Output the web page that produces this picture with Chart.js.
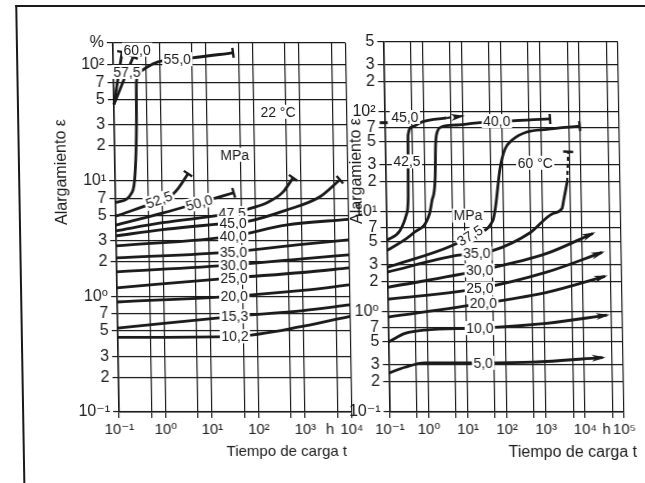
<!DOCTYPE html>
<html>
<head>
<meta charset="utf-8">
<script src="https://cdn.jsdelivr.net/npm/chart.js"></script>
<style>
  html, body { margin: 0; background: #fff; }
  body { width: 645px; height: 483px; overflow: hidden; position: relative; }
  #sheet { position: absolute; left: 0; top: 0; width: 645px; height: 483px;
           transform: skewX(0.97deg); transform-origin: 0 227px; }
  #frame { position: absolute; left: 19px; top: 5px; width: 700px; height: 520px;
           border-top: 2px solid #1a1a1a; border-left: 2px solid #1a1a1a; }
  #c22 { position: absolute; left: 0; top: 0; }
  #c60 { position: absolute; left: 340px; top: 0; }
</style>
</head>
<body>
<div id="sheet">
  <div id="frame"></div>
  <canvas id="c22" width="370" height="483"></canvas>
  <canvas id="c60" width="305" height="483"></canvas>
</div>
<script>
const INK = "#1a1a1a";
const FONT = '"Liberation Sans", Arial, "DejaVu Sans", sans-serif';

/* 22 °C panel: stress (MPa), time t (h), strain (%) */
const stress22 = ["60,0", "57,5", "55,0", "52,5", "50,0", "47,5", "45,0", "40,0", "35,0", "30,0", "25,0", "20,0", "15,3", "10,2"];
const time22 = [
  [0.1, 0.157],
  [0.1, 0.196, 0.27],
  [0.1, 0.23, 0.27, 0.3, 0.31, 0.36, 0.54, 0.92, 2.4, 5, 38],
  [0.1, 0.86, 1.41, 2.3, 3.7],
  [0.1, 1, 6.3, 35],
  [0.1, 1, 32, 90, 180, 400, 670],
  [0.1, 1, 33, 65, 450, 2500, 6800],
  [0.1, 33, 450, 10000],
  [0.1, 33, 1000, 10000],
  [0.1, 33, 1000, 10000],
  [0.1, 33, 1000, 10000],
  [0.1, 33, 1000, 10000],
  [0.1, 33, 1000, 10000],
  [0.1, 33, 1000, 10000]
];
const strain22 = [
  [45, 128],
  [45, 86, 116],
  [6.4, 7.9, 11.6, 30, 70, 85, 95, 105, 111, 114, 126],
  [4.9, 6.6, 7.1, 8.6, 11.4],
  [4.1, 5.2, 6.4, 7.8],
  [3.66, 4.3, 5.2, 5.8, 6.4, 7.9, 10.5],
  [3.31, 3.75, 4.3, 4.4, 5.5, 7.2, 10.1],
  [2.71, 3.3, 4.1, 4.6],
  [2.14, 2.41, 2.8, 3.06],
  [1.62, 1.86, 2.1, 2.27],
  [1.18, 1.44, 1.6, 1.75],
  [0.89, 1.0, 1.12, 1.25],
  [0.53, 0.67, 0.75, 0.84],
  [0.44, 0.45, 0.55, 0.67]
];
const tagAt22 = [[0.33, 134], [0.196, 86], [2.4, 111], [0.86, 6.8], [6.3, 6.4], [32, 5.2], [33, 4.3],
                 [33, 3.3], [33, 2.41], [33, 1.86], [33, 1.44], [33, 1.0], [33, 0.67], [33, 0.45]];
const end22 = ["tick", "tick", "tick", "tick", "tick", "tick", "tick", "", "", "", "", "", "", ""];
const notes22 = [["22 °C", 336, 39], ["MPa", 38, 16.6]];

/* 60 °C panel */
const stress60 = ["45,0", "42,5", "40,0", "37,5", "35,0", "30,0", "25,0", "20,0", "10,0", "5,0"];
const time60 = [
  [0.1],
  [0.1, 0.22, 0.33, 0.37, 0.38, 0.39, 0.5, 0.95, 3.9],
  [0.1, 0.47, 1.28, 1.5, 1.85, 1.95, 2.1, 2.9, 7, 27, 1700],
  [0.1, 6.2, 13.5, 53, 62, 85, 115, 186, 430, 1400, 9700],
  [0.1, 6.2, 20, 51, 470, 1800, 3150, 3500, 4400],
  [0.1, 23, 1240, 19000],
  [0.1, 23, 1200, 32000],
  [0.1, 28, 1200, 37000],
  [0.1, 0.27, 0.87, 22, 1150, 40000],
  [0.1, 0.26, 0.84, 26, 490, 30000]
];
const strain60 = [
  [78],
  [5.2, 6.5, 9.5, 14, 30, 58, 71, 80, 87],
  [4.1, 6.1, 9.6, 13, 22, 45, 60, 71, 74, 78, 85],
  [2.79, 4.84, 5.8, 8.2, 10.8, 27, 42, 53, 63, 67, 72],
  [2.5, 3.67, 3.85, 4.1, 6.2, 9.6, 10.8, 13, 20],
  [1.76, 2.6, 3.85, 6.1],
  [1.34, 1.72, 2.5, 3.94],
  [0.89, 1.22, 1.57, 2.27],
  [0.5, 0.61, 0.66, 0.69, 0.77, 0.93],
  [0.245, 0.28, 0.31, 0.31, 0.315, 0.35]
];
const tagAt60 = [[0.33, 89], [0.355, 32], [74, 81], [13.5, 5.8], [20, 3.85], [23, 2.6], [23, 1.72], [28, 1.22], [22, 0.69], [26, 0.31]];
const end60 = ["dash", "", "tick", "tick", "", "arrow", "arrow", "arrow", "arrow", "arrow"];
// dotted continuations (42,5 and 35,0)
const dashTime60 = [[3.9, 9.5], [4400, 4800]];
const dashStrain60 = [[87, 91], [20, 40]];
const dashEnd60 = ["arrow", "tick"];
const notes60 = [["60 °C", 680, 31], ["MPa", 12.3, 9.2]];

/* axes */
const xTick22 = [0.1, 0.5, 1, 5, 10, 50, 100, 500, 1000, 3400, 5000, 10000];
const xText22 = ["10⁻¹", "", "10⁰", "", "10¹", "", "10²", "", "10³", "h", "", "10⁴"];
const yTick22 = [0.1, 0.2, 0.3, 0.5, 0.7, 1, 2, 3, 5, 7, 10, 20, 30, 50, 70, 100, 153];
const yText22 = ["10⁻¹", "2", "3", "5", "7", "10⁰", "2", "3", "5", "7", "10¹", "2", "3", "5", "7", "10²", "%"];
const xTick60 = [0.1, 0.5, 1, 5, 10, 50, 100, 500, 1000, 5000, 10000, 35000, 50000, 100000];
const xText60 = ["10⁻¹", "", "10⁰", "", "10¹", "", "10²", "", "10³", "", "10⁴", "h", "", "10⁵"];
const yTick60 = [0.1, 0.2, 0.3, 0.5, 0.7, 1, 2, 3, 5, 7, 10, 20, 30, 50, 70, 100, 200, 300, 500];
const yText60 = ["10⁻¹", "2", "3", "5", "7", "10⁰", "2", "3", "5", "7", "10¹", "2", "3", "5", "7", "10²", "2", "3", "5"];

function curves(times, strains, names, tags, ends) {
  return times.map((ts, i) => ({
    data: ts.map((t, j) => ({ x: t, y: strains[i][j] })),
    borderColor: INK,
    borderWidth: 2.8,
    pointRadius: 0,
    cubicInterpolationMode: "monotone",
    clip: false,
    endMark: ends[i],
    tag: names ? names[i] : null,
    tagAt: tags ? tags[i] : null
  }));
}

function logAxis(ticks, texts, fit, size) {
  return {
    type: "logarithmic",
    min: ticks[0],
    max: ticks[ticks.length - 1],
    afterBuildTicks: s => { s.ticks = ticks.map(v => ({ value: v })); },
    afterFit: fit,
    ticks: {
      autoSkip: false, maxRotation: 0, minRotation: 0, padding: 3,
      color: INK, font: { family: FONT, size },
      callback: (v, i) => texts[i]
    },
    grid: {
      color: c => (c.tick && c.tick.label === "h") ? "rgba(0,0,0,0)" : INK,
      lineWidth: 1.2,
      tickLength: 6
    },
    border: { color: INK, width: 1.6 }
  };
}

function box(ctx, text, x, y, ang) {
  ctx.save();
  ctx.translate(x, y);
  ctx.rotate(ang);
  const w = ctx.measureText(text).width;
  ctx.fillStyle = "#fff";
  ctx.fillRect(-w / 2 - 1.5, -7, w + 3, 14);
  ctx.fillStyle = INK;
  ctx.fillText(text, 0, 1);
  ctx.restore();
}

const decor = {
  id: "decor",
  afterDatasetsDraw(chart, args, opts) {
    const ctx = chart.ctx, xs = chart.scales.x, ys = chart.scales.y;
    ctx.save();
    ctx.strokeStyle = INK;
    ctx.fillStyle = INK;
    chart.data.datasets.forEach((ds, i) => {
      const pts = chart.getDatasetMeta(i).data;
      if (!pts.length || !ds.endMark) return;
      const p = pts[pts.length - 1];
      let ang = 0;
      if (pts.length > 1) {
        const q = pts[pts.length - 2];
        const useCp = Number.isFinite(p.cp1x) && Math.abs(p.cp1x - p.x) + Math.abs(p.cp1y - p.y) > 0.01;
        ang = Math.atan2(p.y - (useCp ? p.cp1y : q.y), p.x - (useCp ? p.cp1x : q.x));
      }
      const dx = Math.cos(ang), dy = Math.sin(ang);
      ctx.beginPath();
      if (ds.endMark === "tick") {
        ctx.lineWidth = 2.4;
        ctx.moveTo(p.x - dy * 5, p.y + dx * 5);
        ctx.lineTo(p.x + dy * 5, p.y - dx * 5);
        ctx.stroke();
      } else if (ds.endMark === "arrow") {
        ctx.moveTo(p.x + dx * 3, p.y + dy * 3);
        ctx.lineTo(p.x - dx * 11 - dy * 3.5, p.y - dy * 11 + dx * 3.5);
        ctx.lineTo(p.x - dx * 7, p.y - dy * 7);
        ctx.lineTo(p.x - dx * 11 + dy * 3.5, p.y - dy * 11 - dx * 3.5);
        ctx.closePath();
        ctx.fill();
      } else if (ds.endMark === "dash") {
        ctx.lineWidth = 3;
        ctx.moveTo(p.x - 5, p.y);
        ctx.lineTo(p.x + 3, p.y);
        ctx.stroke();
      }
    });

    ctx.font = "14px " + FONT;
    ctx.textAlign = "center";
    ctx.textBaseline = "middle";
    chart.data.datasets.forEach((ds, i) => {
      if (!ds.tag) return;
      const meta = chart.getDatasetMeta(i);
      const x = xs.getPixelForValue(ds.tagAt[0]), y = ys.getPixelForValue(ds.tagAt[1]);
      let ang = 0;
      const k = ds.data.findIndex(d => d.x >= ds.tagAt[0]);
      if (k > 0) {
        const a = meta.data[k - 1], b = meta.data[k];
        ang = Math.atan2(b.y - a.y, b.x - a.x);
      }
      if (Math.abs(ang) < 0.21 || Math.abs(ang) > 0.7) ang = 0;
      box(ctx, ds.tag, x, y, ang);
    });
    (opts.notes || []).forEach(n => box(ctx, n[0], xs.getPixelForValue(n[1]), ys.getPixelForValue(n[2]), 0));
    ctx.restore();
  },
  afterDraw(chart, args, opts) {
    const ctx = chart.ctx;
    ctx.save();
    ctx.fillStyle = INK;
    ctx.textAlign = "center";
    ctx.textBaseline = "middle";
    (opts.titles || []).forEach(t => {
      ctx.save();
      ctx.font = t.size + "px " + FONT;
      ctx.translate(t.x, t.y);
      ctx.rotate(t.rot || 0);
      ctx.fillText(t.text, 0, 0);
      ctx.restore();
    });
    ctx.restore();
  }
};

function panel(id, datasets, xTick, xText, yTick, yText, yWidth, pad, notes, titles) {
  return new Chart(document.getElementById(id), {
    type: "line",
    data: { datasets },
    options: {
      responsive: false,
      animation: false,
      events: [],
      layout: { padding: pad },
      plugins: {
        legend: { display: false },
        tooltip: { enabled: false },
        decor: { notes, titles }
      },
      scales: {
        x: logAxis(xTick, xText, s => { s.height = 60; }, 15),
        y: logAxis(yTick, yText, s => { s.width = yWidth; }, 16)
      }
    },
    plugins: [decor]
  });
}

panel("c22",
  curves(time22, strain22, stress22, tagAt22, end22),
  xTick22, xText22, yTick22, yText22, 116,
  { left: 0, right: 21.5, top: 43, bottom: 11 },
  notes22,
  [
    { text: "Alargamiento ε", x: 63, y: 172, rot: -Math.PI / 2, size: 16 },
    { text: "Tiempo de carga t", x: 283, y: 452, size: 15 }
  ]);

const sets60 = curves(time60, strain60, stress60, tagAt60, end60)
  .concat(curves(dashTime60, dashStrain60, null, null, dashEnd60).map(d => Object.assign(d, {
    borderDash: [4, 3], borderWidth: 2.2, cubicInterpolationMode: "default", tension: 0
  })));

panel("c60",
  sets60,
  xTick60, xText60, yTick60, yText60, 46.5,
  { left: 0, right: 24, top: 42, bottom: 11 },
  notes60,
  [
    { text: "Alargamiento ε", x: 18, y: 171, rot: -Math.PI / 2, size: 16 },
    { text: "Tiempo de carga t", x: 229, y: 453, size: 16 }
  ]);
</script>
</body>
</html>
